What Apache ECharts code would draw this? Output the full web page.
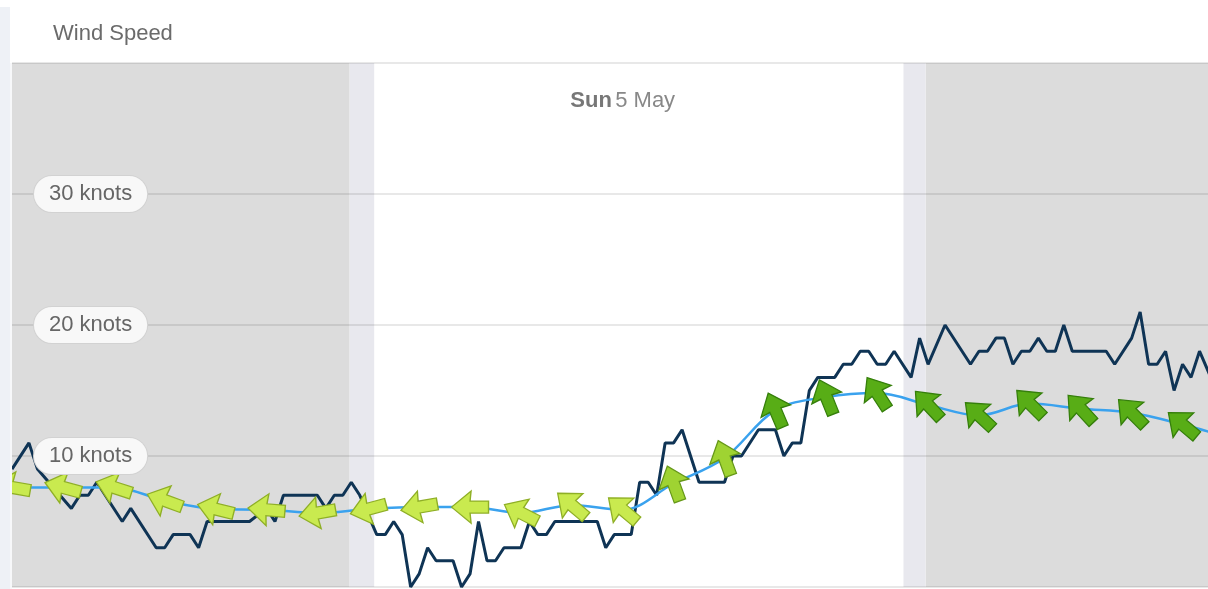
<!DOCTYPE html>
<html><head><meta charset="utf-8">
<script src="https://cdn.jsdelivr.net/npm/echarts@6/dist/echarts.min.js"></script>
<style>html,body{margin:0;padding:0;background:#fff}#c{width:1208px;height:589px}</style>
</head><body><div id="c"></div>
<script>
// ---- data ----
const chartTitle = 'Wind Speed';
const unitLabel = 'knots';
const yMin = 0, yMax = 40, yStep = 10;
const xMinMinutes = 0, xMaxMinutes = 1410;           // minutes after midnight
const dayLabel = { minute: 720, weekday: 'Sun', date: '5 May' };
const nightPeriods = [[0, 398], [1077, 1410]];
const twilightPeriods = [[398, 427], [1051, 1077]];

// observed wind (minutes, knots)
const obsMinutes = [0,20,30,70,80,90,100,130,140,170,180,190,210,220,230,280,300,310,320,360,
  370,380,390,400,410,430,440,450,460,470,480,490,500,520,530,540,550,560,570,580,
  600,610,620,630,640,690,700,710,730,740,750,760,770,780,790,810,840,850,860,880,
  900,910,920,930,940,950,970,980,990,1000,1010,1020,1030,1040,1060,1070,1080,1100,1130,1140,
  1150,1160,1170,1180,1190,1200,1210,1220,1230,1240,1250,1290,1300,1320,1330,1340,1350,1360,1370,1380,
  1390,1400,1420];
const obsKnots = [9,11,9,6,7,7,8,5,6,3,3,4,4,3,5,5,6,5,7,7,
  6,7,7,8,7,4,4,5,4,0,1,3,2,2,0,1,5,2,2,3,
  3,5,4,4,5,5,3,4,4,8,8,7,11,11,12,8,8,10,10,12,
  12,10,11,11,15,16,16,17,17,18,18,17,17,18,16,19,17,20,17,18,
  18,19,19,17,18,18,19,18,18,20,18,18,17,19,21,17,17,18,15,17,
  16,18,15];

// hourly forecast (minutes, knots, direction wind comes FROM in degrees)
const fcMinutes = [0,60,120,180,240,300,360,420,480,540,600,660,720,780,840,900,960,1020,1080,1140,1200,1260,1320,1380,1440];
const fcKnots = [7.6,7.6,7.6,6.6,5.95,5.9,5.65,5.95,6.1,6.1,5.65,6.25,5.9,7.9,9.85,13.5,14.5,14.8,13.9,13.1,14.0,13.6,13.3,12.4,11.3];
const fcFromDir = [100,105,108,110,104,95,80,75,80,90,117,130,130,160,160,157,158,147,137,133,135,137,135,130,130];

// ---- chart ----
const FONT = '"Liberation Sans", Arial, sans-serif';
const arrowPath = 'path://M16,0 L32,19 L22,18 L22,36 L10,36 L10,18 L0,19 Z';
function arrowColors(kt) {
  if (kt < 7.8) return { fill: '#c9ea4f', stroke: '#8faf26' };
  if (kt < 12) return { fill: '#9fd332', stroke: '#669818' };
  return { fill: '#58ad16', stroke: '#357f0b' };
}
const fcData = fcMinutes.map((m, i) => {
  const c = arrowColors(fcKnots[i]);
  return {
    value: [m, fcKnots[i]],
    symbolRotate: 180 - fcFromDir[i],
    itemStyle: { color: c.fill, borderColor: c.stroke, borderWidth: 1.3 }
  };
});
const obsData = obsMinutes.map((m, i) => [m, obsKnots[i]]);
const bandAreas = [];
nightPeriods.forEach(p => bandAreas.push([{ xAxis: p[0], itemStyle: { color: '#dcdcdc' } }, { xAxis: p[1] }]));
twilightPeriods.forEach(p => bandAreas.push([{ xAxis: p[0], itemStyle: { color: '#e8e8ee' } }, { xAxis: p[1] }]));

const chart = echarts.init(document.getElementById('c'), null, { renderer: 'canvas' });
chart.setOption({
  animation: false,
  backgroundColor: '#ffffff',
  title: {
    text: chartTitle, left: 53, top: 23, padding: 0,
    textStyle: { fontFamily: FONT, fontSize: 22, fontWeight: 'normal', color: '#6b6b6b' }
  },
  grid: { left: 12, right: 0, top: 63, bottom: 2, containLabel: false },
  xAxis: [
    { type: 'value', min: xMinMinutes, max: xMaxMinutes, show: true,
      axisLine: { show: false }, axisTick: { show: false }, axisLabel: { show: false }, splitLine: { show: false } },
    { type: 'value', position: 'top', min: xMinMinutes, max: xMaxMinutes, interval: dayLabel.minute,
      axisLine: { show: false }, axisTick: { show: false }, splitLine: { show: false },
      axisLabel: {
        inside: true, margin: 27, showMinLabel: false, showMaxLabel: false,
        formatter: v => v === dayLabel.minute ? '{b|' + dayLabel.weekday + '} {n|' + dayLabel.date + '}' : '',
        rich: {
          b: { fontFamily: FONT, fontSize: 22, fontWeight: 'bold', color: '#777' },
          n: { fontFamily: FONT, fontSize: 22, color: '#888' }
        }
      } }
  ],
  yAxis: [
    { type: 'value', min: yMin, max: yMax, interval: yStep, z: 3,
      axisLine: { show: false }, axisTick: { show: false }, axisLabel: { show: false },
      splitLine: { show: true, lineStyle: { color: 'rgba(0,0,0,0.12)', width: 1.5 } } },
    { type: 'value', min: yMin, max: yMax, interval: yStep, z: 10, position: 'left',
      axisLine: { show: false }, axisTick: { show: false }, splitLine: { show: false },
      axisLabel: {
        inside: true, margin: 22, showMinLabel: false, showMaxLabel: false,
        formatter: v => v + ' ' + unitLabel,
        fontFamily: FONT, fontSize: 22, color: '#666',
        backgroundColor: '#f8f8f8', borderColor: '#d2d2d2', borderWidth: 1, borderRadius: 19,
        padding: [7, 15, 7, 15]
      } }
  ],
  series: [
    { name: 'bands', type: 'line', data: [], z: 1, silent: true,
      markArea: { silent: true, data: bandAreas } },
    { name: 'observed', type: 'line', data: obsData, symbol: 'none', z: 5,
      lineStyle: { color: '#0f3455', width: 3 } },
    { name: 'forecast', type: 'line', data: fcData, smooth: 0.35, z: 6,
      symbol: arrowPath, symbolSize: [32, 37], showAllSymbol: true,
      lineStyle: { color: '#3aa2ee', width: 2.5 } }
  ],
  graphic: [
    { type: 'rect', left: 0, top: 7, z: 100, shape: { width: 10, height: 582 }, style: { fill: '#eef1f6' } },
    { type: 'rect', left: 10, top: 63, z: 100, shape: { width: 2, height: 526 }, style: { fill: '#f7f8fa' } }
  ]
});
</script></body></html>
